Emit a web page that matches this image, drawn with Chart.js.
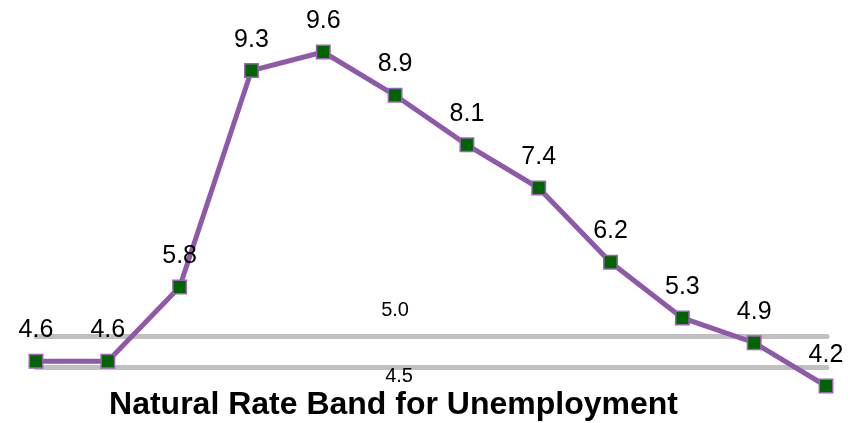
<!DOCTYPE html>
<html>
<head>
<meta charset="utf-8">
<script src="https://cdn.jsdelivr.net/npm/chart.js@4/dist/chart.umd.min.js"></script>
<style>
html,body{margin:0;padding:0;background:#fff;}
#wrap{width:864px;height:423px;position:relative;}
</style>
</head>
<body>
<div id="wrap"><canvas id="c" width="864" height="423"></canvas></div>
<script>
const categories = ['2006','2007','2008','2009','2010','2011','2012','2013','2014','2015','2016','2017'];
const unemployment = [4.6, 4.6, 5.8, 9.3, 9.6, 8.9, 8.1, 7.4, 6.2, 5.3, 4.9, 4.2];
const bandLevels = [5.0, 4.5];
const bandLabels = ['5.0', '4.5'];
const titleText = 'Natural Rate Band for Unemployment';

const FONT = '"Liberation Sans", Arial, sans-serif';

const bandPlugin = {
  id: 'bandPlugin',
  beforeDatasetsDraw(chart) {
    const {ctx, chartArea, scales} = chart;
    ctx.save();
    ctx.strokeStyle = '#c0c0c0';
    ctx.lineWidth = 5;
    ctx.lineCap = 'round';
    bandLevels.forEach(v => {
      const y = scales.y.getPixelForValue(v);
      ctx.beginPath();
      ctx.moveTo(chartArea.left, y);
      ctx.lineTo(chartArea.right + 1, y);
      ctx.stroke();
    });
    ctx.restore();
  },
  afterDatasetsDraw(chart) {
    const {ctx, scales} = chart;
    ctx.save();
    ctx.fillStyle = '#000';
    ctx.textAlign = 'center';
    ctx.textBaseline = 'alphabetic';
    ctx.font = '20px ' + FONT;
    const lx = scales.x.getPixelForValue(5);
    ctx.fillText(bandLabels[0], lx, scales.y.getPixelForValue(bandLevels[0]) - 21);
    ctx.fillText(bandLabels[1], lx + 4, scales.y.getPixelForValue(bandLevels[1]) + 14.5);
    // data labels
    ctx.font = '25px ' + FONT;
    const meta = chart.getDatasetMeta(0);
    meta.data.forEach((pt, i) => {
      ctx.fillText(unemployment[i].toFixed(1), pt.x, pt.y - 24);
    });
    // title
    ctx.font = 'bold 32px ' + FONT;
    ctx.fillText(titleText, 393.5, 414);
    ctx.restore();
  }
};

new Chart(document.getElementById('c'), {
  type: 'line',
  data: {
    labels: categories,
    datasets: [{
      data: unemployment,
      borderColor: '#8e59a8',
      borderWidth: 5,
      tension: 0,
      pointStyle: 'rect',
      pointRadius: 9.5,
      pointHoverRadius: 9.5,
      pointBackgroundColor: '#006400',
      pointBorderColor: '#9b63b5',
      pointBorderWidth: 1.5,
      clip: false
    }]
  },
  options: {
    responsive: false,
    animation: false,
    events: [],
    layout: { padding: { left: 36, right: 38, top: 52, bottom: 37 } },
    plugins: { legend: { display: false }, tooltip: { enabled: false }, title: { display: false } },
    scales: {
      x: { display: false, offset: false },
      y: { display: false, min: 4.2, max: 9.6 }
    }
  },
  plugins: [bandPlugin]
});
</script>
</body>
</html>
